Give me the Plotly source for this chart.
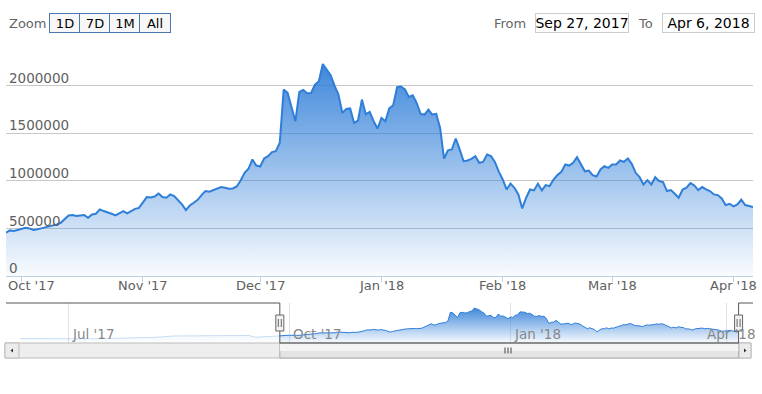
import plotly.graph_objects as go
from datetime import date, timedelta

# ---------------- data ----------------
start_date = date(2017, 9, 27)
values = [
    455000, 479000, 472000, 485000, 495000, 507000, 500000, 483000, 490000, 500000,
    507000, 515000, 524000, 542000, 559000, 594000, 636000, 640000, 630000, 635000,
    640000, 612000, 647000, 654000, 700000, 682000, 670000, 654000, 636000, 655000,
    682000, 657000, 680000, 705000, 715000, 769000, 829000, 825000, 835000, 867000,
    829000, 822000, 857000, 840000, 800000, 752000, 692000, 740000, 769000, 800000,
    850000, 892000, 885000, 899000, 920000, 934000, 927000, 916000, 920000, 940000,
    1003000, 1084000, 1126000, 1224000, 1160000, 1150000, 1234000, 1259000, 1301000, 1311000,
    1400000, 1958000, 1923000, 1780000, 1626000, 1934000, 1955000, 1920000, 1923000, 2010000,
    2045000, 2227000, 2170000, 2110000, 2000000, 1906000, 1713000, 1755000, 1760000, 1608000,
    1633000, 1853000, 1700000, 1724000, 1626000, 1549000, 1660000, 1626000, 1760000, 1794000,
    1983000, 1990000, 1960000, 1880000, 1899000, 1818000, 1703000, 1696000, 1748000, 1696000,
    1703000, 1556000, 1234000, 1320000, 1329000, 1444000, 1330000, 1206000, 1213000, 1230000,
    1259000, 1189000, 1199000, 1276000, 1259000, 1199000, 1097000, 1014000, 909000, 970000,
    927000, 857000, 710000, 822000, 909000, 899000, 969000, 899000, 955000, 944000,
    1014000, 1060000, 1094000, 1171000, 1160000, 1189000, 1248000, 1178000, 1100000, 1108000,
    1059000, 1045000, 1119000, 1154000, 1136000, 1171000, 1171000, 1213000, 1199000, 1234000,
    1178000, 1084000, 1038000, 962000, 1007000, 962000, 1038000, 997000, 986000, 892000,
    902000, 864000, 822000, 909000, 927000, 976000, 951000, 902000, 934000, 909000,
    892000, 857000, 850000, 815000, 745000, 759000, 731000, 752000, 801000, 745000,
    734000, 724000,
]
dates = [start_date + timedelta(days=i) for i in range(len(values))]

# earlier history shown only in the navigator (outside the selected range)
pre_dates = ["2017-06-11", "2017-06-21", "2017-06-30", "2017-07-11", "2017-07-21",
             "2017-07-28", "2017-08-06", "2017-08-14", "2017-08-25", "2017-09-08",
             "2017-09-14", "2017-09-17", "2017-09-22", "2017-09-26"]
pre_values = [280000, 270000, 250000, 270000, 300000, 330000, 360000, 450000,
              470000, 500000, 480000, 370000, 420000, 450000]

y_ticks = [0, 500000, 1000000, 1500000, 2000000, 2500000]
y_ticktext = ["0", "500000", "1000000", "1500000", "2000000", ""]
nav_ticks = ["2017-07-01", "2017-10-01", "2018-01-01", "2018-04-01"]
nav_ticktext = ["Jul '17", "Oct '17", "Jan '18", "Apr '18"]
zoom_buttons = ["1D", "7D", "1M", "All"]
nav_range = ["2017-06-05", "2018-04-12"]

# ---------------- layout helpers ----------------
W, H = 762, 394
def px(x):
    return x / W
def py(y):
    return 1 - y / H

FONT = "DejaVu Sans"
BLUE = "#2f7ed8"
grad = [[0, "rgba(47,126,216,0.03)"], [1, "rgba(47,126,216,0.92)"]]
grad_faint = [[0, "rgba(47,126,216,0.01)"], [1, "rgba(47,126,216,0.23)"]]

fig = go.Figure()
fig.add_trace(go.Scatter(
    x=dates, y=values, mode="lines", line=dict(color=BLUE, width=2),
    fill="tozeroy",
    fillgradient=dict(type="vertical", colorscale=grad, start=0, stop=max(values)),
    hoverinfo="skip", xaxis="x", yaxis="y", showlegend=False,
))
nav_stop = max(values + pre_values)
# navigator: part outside the selection (faded, as under the navigator mask)
fig.add_trace(go.Scatter(
    x=pre_dates + [dates[0].isoformat()], y=pre_values + [values[0]], mode="lines",
    line=dict(color="rgba(47,126,216,0.25)", width=1), fill="tozeroy",
    fillgradient=dict(type="vertical", colorscale=grad_faint, start=0, stop=nav_stop),
    hoverinfo="skip", xaxis="x2", yaxis="y2", showlegend=False,
))
# navigator: selected part
fig.add_trace(go.Scatter(
    x=dates, y=values, mode="lines", line=dict(color=BLUE, width=1),
    fill="tozeroy",
    fillgradient=dict(type="vertical", colorscale=grad, start=0, stop=nav_stop),
    hoverinfo="skip", xaxis="x2", yaxis="y2", showlegend=False,
))

first, last = dates[0].isoformat(), dates[-1].isoformat()
mid = (dates[0] + (dates[-1] - dates[0]) / 2).isoformat()
month_dates = [d for d in dates if d.day == 1]
month_starts = [d.isoformat() for d in month_dates]
month_text = [d.strftime("%b '%y") for d in month_dates]

shapes = []
NAV_TOP, NAV_BOT = 303, 343
SB_TOP, SB_BOT = 343, 358
# scrollbar track
shapes.append(dict(type="rect", xref="paper", yref="paper", x0=px(5), x1=px(751),
                   y0=py(SB_BOT), y1=py(SB_TOP), fillcolor="#eeeeee",
                   line=dict(color="#bbbbbb", width=1)))
# scrollbar thumb
shapes.append(dict(type="rect", xref="x2", yref="paper", x0=first, x1=last,
                   y0=py(SB_BOT), y1=py(SB_TOP), fillcolor="#e4e4e4",
                   line=dict(color="#aaaaaa", width=1)))
shapes.append(dict(type="rect", xref="x2", yref="paper", x0=first, x1=last,
                   y0=py(351), y1=py(344), fillcolor="#f4f4f4", line=dict(width=0)))
for off in (-3, 0, 3):
    shapes.append(dict(type="line", xref="x2", yref="paper", xsizemode="pixel",
                       xanchor=mid, x0=off, x1=off, y0=py(353.5), y1=py(347.5),
                       line=dict(color="#444444", width=1)))
# scrollbar arrow buttons
for bx0, bx1 in [(5, 19), (739, 751)]:
    shapes.append(dict(type="rect", xref="paper", yref="paper", x0=px(bx0), x1=px(bx1),
                       y0=py(SB_BOT), y1=py(SB_TOP), fillcolor="#ebebeb",
                       line=dict(color="#bbbbbb", width=1)))
shapes.append(dict(type="path", xref="paper", yref="paper",
                   path=f"M {px(10.5)},{py(350.5)} L {px(13)},{py(348.5)} L {px(13)},{py(352.5)} Z",
                   fillcolor="#333333", line=dict(width=0)))
shapes.append(dict(type="path", xref="paper", yref="paper",
                   path=f"M {px(746.5)},{py(350.5)} L {px(744)},{py(348.5)} L {px(744)},{py(352.5)} Z",
                   fillcolor="#333333", line=dict(width=0)))
# navigator outline
OUT = "#555555"
shapes.append(dict(type="line", xref="x2", yref="paper", x0=nav_range[0], x1=first,
                   y0=py(NAV_TOP), y1=py(NAV_TOP), line=dict(color=OUT, width=1)))
shapes.append(dict(type="line", xref="x2", yref="paper", x0=last, x1=nav_range[1],
                   y0=py(NAV_TOP), y1=py(NAV_TOP), line=dict(color=OUT, width=1)))
for xv in (first, last):
    shapes.append(dict(type="line", xref="x2", yref="paper", x0=xv, x1=xv,
                       y0=py(NAV_BOT), y1=py(NAV_TOP), line=dict(color=OUT, width=1)))
shapes.append(dict(type="line", xref="x2", yref="paper", x0=first, x1=last,
                   y0=py(NAV_BOT), y1=py(NAV_BOT), line=dict(color=OUT, width=1)))
# navigator handles
for xv in (first, last):
    shapes.append(dict(type="rect", xref="x2", yref="paper", xsizemode="pixel", xanchor=xv,
                       x0=-4, x1=4, y0=py(331), y1=py(315), fillcolor="#f2f2f2",
                       line=dict(color="#666666", width=1)))
    for off in (-1.5, 1.5):
        shapes.append(dict(type="line", xref="x2", yref="paper", xsizemode="pixel", xanchor=xv,
                           x0=off, x1=off, y0=py(327), y1=py(319),
                           line=dict(color="#666666", width=1)))

annotations = []
# main x-axis month labels, centred under their ticks (first one kept inside the chart)
for i, (md, tt) in enumerate(zip(month_starts, month_text)):
    near_left = i == 0 and (month_dates[0] - dates[0]).days < 7
    annotations.append(dict(text=tt, xref="x", yref="paper",
                            x=first if near_left else md, y=py(285),
                            xanchor="left" if near_left else "center", yanchor="middle",
                            showarrow=False,
                            font=dict(family=FONT, size=13, color="#606060")))
# navigator axis labels (last one kept inside the chart)
for i, (tv, tt) in enumerate(zip(nav_ticks, nav_ticktext)):
    last_lab = i == len(nav_ticks) - 1
    annotations.append(dict(text=tt, xref="x2", yref="paper",
                            x=nav_range[1] if last_lab else tv, y=py(334),
                            xanchor="right" if last_lab else "left",
                            xshift=5 if last_lab else 2, yanchor="middle",
                            showarrow=False,
                            font=dict(family=FONT, size=13.5, color="#888888")))
annotations.append(dict(text="Zoom", xref="paper", yref="paper", x=px(7), y=py(23),
                        xanchor="left", yanchor="middle", showarrow=False,
                        font=dict(family=FONT, size=13, color="#666666")))
for i, lab in enumerate(zoom_buttons):
    annotations.append(dict(text=lab, xref="paper", yref="paper", x=px(65 + 30 * i), y=py(23),
                            xanchor="center", yanchor="middle", showarrow=False,
                            width=30, height=18, borderpad=0, borderwidth=1,
                            bordercolor="#4a78b0", bgcolor="#f7f7f7",
                            font=dict(family=FONT, size=13, color="#000000")))
annotations.append(dict(text="From", xref="paper", yref="paper", x=px(528), y=py(23),
                        xanchor="right", yanchor="middle", showarrow=False,
                        font=dict(family=FONT, size=13, color="#666666")))
annotations.append(dict(text="To", xref="paper", yref="paper", x=px(655), y=py(23),
                        xanchor="right", yanchor="middle", showarrow=False,
                        font=dict(family=FONT, size=13, color="#666666")))
for cx, wv, d in [(581.5, 92, dates[0]), (708, 91, dates[-1])]:
    annotations.append(dict(text=f"{d.strftime('%b')} {d.day}, {d.year}", xref="paper", yref="paper",
                            x=px(cx), y=py(23), xanchor="center", yanchor="middle",
                            showarrow=False, width=wv, height=18, borderpad=0, borderwidth=1,
                            bordercolor="#cccccc", bgcolor="#ffffff",
                            font=dict(family=FONT, size=14, color="#000000")))

fig.update_layout(
    width=W, height=H, margin=dict(l=0, r=0, t=0, b=0, autoexpand=False),
    paper_bgcolor="white", plot_bgcolor="white",
    font=dict(family=FONT),
    xaxis=dict(domain=[px(6), px(753)], range=[first, last], type="date",
               tickvals=month_starts, showticklabels=False,
               ticks="outside", ticklen=5, tickcolor="#c0d0e0",
               showline=True, linecolor="#c0d0e0", linewidth=1, showgrid=False,
               zeroline=False, anchor="y", automargin=False, fixedrange=True),
    yaxis=dict(domain=[py(276), py(38)], range=[0, 2500000], tickvals=y_ticks,
               ticktext=y_ticktext, ticklabelposition="inside top", ticks="",
               ticklabelshift=2, automargin=False, ticklabeloverflow="allow",
               showgrid=True, gridcolor="#c8c8c8", gridwidth=1, zeroline=False,
               showline=False, anchor="x",
               tickfont=dict(family=FONT, size=13.5, color="#606060"), fixedrange=True),
    xaxis2=dict(domain=[px(6), px(753)], range=nav_range, type="date",
                tickvals=nav_ticks, showticklabels=False, ticks="", showgrid=True,
                automargin=False,
                gridcolor="#e2e2e2", showline=False, zeroline=False, anchor="y2",
                fixedrange=True),
    yaxis2=dict(domain=[py(NAV_BOT), py(NAV_TOP)], range=[0, 2550000], visible=False,
                anchor="x2", fixedrange=True),
    shapes=shapes, annotations=annotations,
)

fig.write_html("out.html", config={"displayModeBar": False},
               post_script="document.body.style.margin='0px';")
